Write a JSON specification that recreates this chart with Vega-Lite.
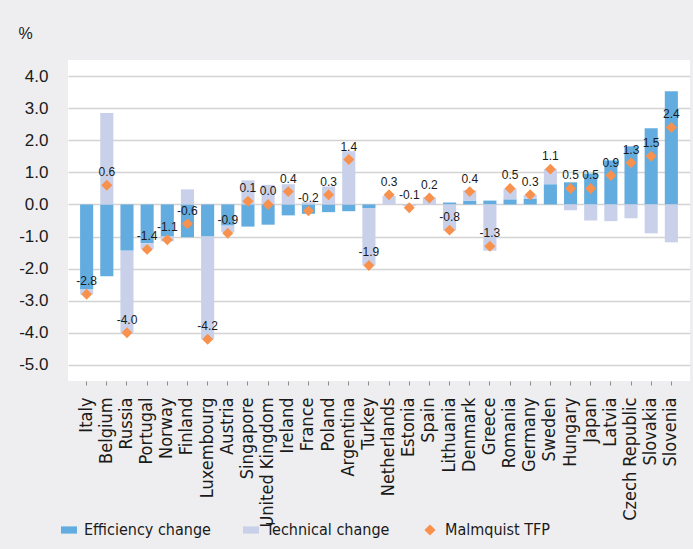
{
  "$schema": "https://vega.github.io/schema/vega-lite/v6.json",
  "width": 622,
  "height": 321,
  "autosize": {"type": "none"},
  "padding": {"left": 68, "top": 60, "right": 3, "bottom": 168},
  "background": "#eeeef0",
  "config": {
    "view": {"fill": "white", "stroke": null},
    "font": "Liberation Sans",
    "locale": {"number": {"decimal": ".", "thousands": ",", "grouping": [3], "currency": ["$", ""], "minus": "-"}},
    "axisY": {
      "grid": true,
      "gridColor": "#d3d3d3",
      "gridWidth": 1.5,
      "domain": false,
      "ticks": false,
      "labelOverlap": false,
      "labelPadding": 20,
      "labelFontSize": 17,
      "labelColor": "#1a1a1a",
      "titleAngle": 0,
      "titleX": -50,
      "titleY": -27,
      "titleAlign": "left",
      "titleBaseline": "middle",
      "titleFontSize": 16,
      "titleFontWeight": "normal",
      "titleColor": "#1a1a1a"
    }
  },
  "data": {
    "values": [
      {"country": "Italy", "Efficiency change": -2.65, "Technical change": -0.15, "tfp": -2.8},
      {"country": "Belgium", "Efficiency change": -2.24, "Technical change": 2.85, "tfp": 0.6},
      {"country": "Russia", "Efficiency change": -1.44, "Technical change": -2.56, "tfp": -4.0},
      {"country": "Portugal", "Efficiency change": -1.21, "Technical change": -0.18, "tfp": -1.4},
      {"country": "Norway", "Efficiency change": -1.0, "Technical change": -0.15, "tfp": -1.1},
      {"country": "Finland", "Efficiency change": -1.02, "Technical change": 0.47, "tfp": -0.6},
      {"country": "Luxembourg", "Efficiency change": -1.0, "Technical change": -3.2, "tfp": -4.2},
      {"country": "Austria", "Efficiency change": -0.66, "Technical change": -0.21, "tfp": -0.9},
      {"country": "Singapore", "Efficiency change": -0.69, "Technical change": 0.75, "tfp": 0.1},
      {"country": "United Kingdom", "Efficiency change": -0.63, "Technical change": 0.61, "tfp": 0.0},
      {"country": "Ireland", "Efficiency change": -0.34, "Technical change": 0.63, "tfp": 0.4},
      {"country": "France", "Efficiency change": -0.29, "Technical change": 0.07, "tfp": -0.2},
      {"country": "Poland", "Efficiency change": -0.24, "Technical change": 0.56, "tfp": 0.3},
      {"country": "Argentina", "Efficiency change": -0.21, "Technical change": 1.66, "tfp": 1.4},
      {"country": "Turkey", "Efficiency change": -0.11, "Technical change": -1.79, "tfp": -1.9},
      {"country": "Netherlands", "Efficiency change": 0.0, "Technical change": 0.27, "tfp": 0.3},
      {"country": "Estonia", "Efficiency change": 0.0, "Technical change": -0.05, "tfp": -0.1},
      {"country": "Spain", "Efficiency change": 0.0, "Technical change": 0.22, "tfp": 0.2},
      {"country": "Lithuania", "Efficiency change": 0.06, "Technical change": -0.81, "tfp": -0.8},
      {"country": "Denmark", "Efficiency change": 0.12, "Technical change": 0.32, "tfp": 0.4},
      {"country": "Greece", "Efficiency change": 0.12, "Technical change": -1.44, "tfp": -1.3},
      {"country": "Romania", "Efficiency change": 0.16, "Technical change": 0.33, "tfp": 0.5},
      {"country": "Germany", "Efficiency change": 0.17, "Technical change": 0.12, "tfp": 0.3},
      {"country": "Sweden", "Efficiency change": 0.63, "Technical change": 0.47, "tfp": 1.1},
      {"country": "Hungary", "Efficiency change": 0.69, "Technical change": -0.18, "tfp": 0.5},
      {"country": "Japan", "Efficiency change": 0.96, "Technical change": -0.5, "tfp": 0.5},
      {"country": "Latvia", "Efficiency change": 1.37, "Technical change": -0.52, "tfp": 0.9},
      {"country": "Czech Republic", "Efficiency change": 1.81, "Technical change": -0.43, "tfp": 1.3},
      {"country": "Slovakia", "Efficiency change": 2.37, "Technical change": -0.9, "tfp": 1.5},
      {"country": "Slovenia", "Efficiency change": 3.53, "Technical change": -1.18, "tfp": 2.4}
    ]
  },
  "encoding": {
    "x": {
      "field": "country",
      "type": "nominal",
      "sort": null,
      "scale": {"paddingInner": 0.35, "paddingOuter": 0.6},
      "axis": {
        "title": null,
        "labelAngle": -90,
        "labelFont": "'DejaVu Sans Condensed', Roboto, sans-serif",
        "labelFontSize": 18,
        "labelColor": "#1a1a1a",
        "labelPadding": 12,
        "tickSize": 4,
        "tickColor": "#8c8c8c",
        "domain": false,
        "grid": false
      }
    }
  },
  "layer": [
    {
      "transform": [{"fold": ["Efficiency change", "Technical change"], "as": ["component", "value"]}],
      "mark": {"type": "bar"},
      "encoding": {
        "y": {
          "field": "value",
          "type": "quantitative",
          "scale": {"domain": [-5.5, 4.5], "nice": false, "zero": false},
          "axis": {"values": [-5, -4, -3, -2, -1, 0, 1, 2, 3, 4], "format": ".1f", "title": "%"}
        },
        "order": {"field": "component", "sort": "ascending"},
        "color": {
          "field": "component",
          "type": "nominal",
          "scale": {
            "domain": ["Efficiency change", "Technical change", "Malmquist TFP"],
            "range": ["#63acdf", "#c9d0ea", "#f7914d"]
          },
          "legend": {
            "title": null,
            "orient": "none",
            "legendX": -7,
            "legendY": 462,
            "direction": "horizontal",
            "symbolSize": 256,
            "symbolStrokeWidth": 0,
            "symbolOpacity": 1,
            "labelFont": "'DejaVu Sans Condensed', Roboto, sans-serif",
            "labelFontSize": 16,
            "labelColor": "#1a1a1a",
            "labelOffset": 7,
            "columnPadding": 32,
            "encode": {
              "symbols": {
                "update": {
                  "shape": {"signal": "datum.label === 'Malmquist TFP' ? 'M0,-0.7L0.7,0L0,0.7L-0.7,0Z' : 'M-1,-0.45H1V0.45H-1Z'"}
                }
              }
            }
          }
        }
      }
    },
    {
      "mark": {"type": "point", "shape": "diamond", "filled": true, "size": 120, "opacity": 1},
      "encoding": {
        "y": {
          "field": "tfp",
          "type": "quantitative",
          "axis": {"values": [-5, -4, -3, -2, -1, 0, 1, 2, 3, 4], "format": ".1f", "title": "%"}
        },
        "color": {"datum": "Malmquist TFP", "type": "nominal"}
      }
    },
    {
      "mark": {"type": "text", "dy": -9, "baseline": "alphabetic", "fontSize": 12, "color": "#1a1a1a"},
      "encoding": {
        "y": {
          "field": "tfp",
          "type": "quantitative",
          "axis": {"values": [-5, -4, -3, -2, -1, 0, 1, 2, 3, 4], "format": ".1f", "title": "%"}
        },
        "text": {"field": "tfp", "type": "quantitative", "format": ".1f"}
      }
    }
  ]
}
